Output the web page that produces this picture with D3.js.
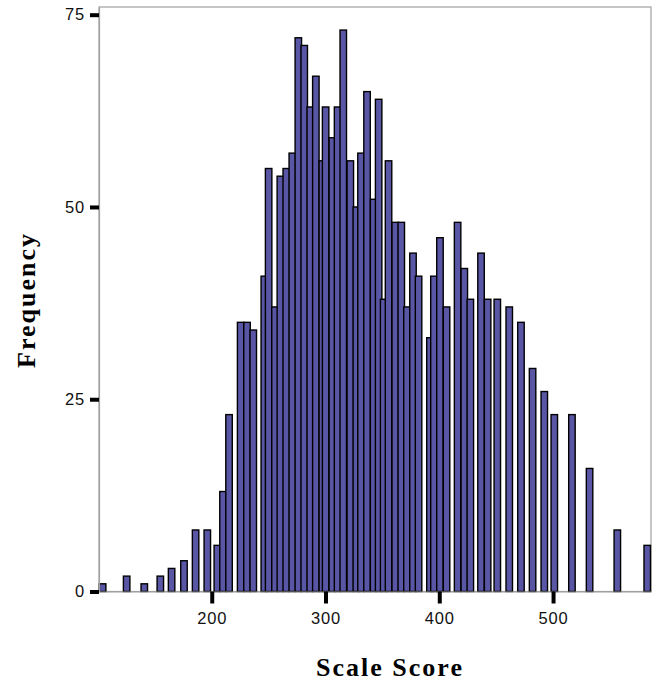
<!DOCTYPE html>
<html>
<head>
<meta charset="utf-8">
<script src="https://cdnjs.cloudflare.com/ajax/libs/d3/7.8.5/d3.min.js"></script>
<style>
	body { margin: 0; background: #fff; }
</style>
</head>
<body>
<script>
	// scale score values (one bar each) and their frequencies
	var scores = [104.1, 125.2, 140.7, 154.8, 164.7, 175.6, 185.8, 196.1, 204.9, 209.9,
	              215.2, 225.4, 231.0, 236.5, 246.2, 250.0, 255.6, 260.3, 265.5, 270.8,
	              276.1, 281.3, 286.6, 291.5, 297.2, 300.1, 306.0, 310.6, 315.6, 321.8,
	              327.1, 331.2, 336.5, 342.3, 346.7, 351.1, 355.4, 361.3, 366.6, 371.6,
	              376.9, 381.8, 391.8, 395.3, 400.6, 406.4, 416.1, 422.0, 427.3, 436.7,
	              442.5, 451.0, 461.5, 471.8, 482.0, 492.3, 501.1, 516.6, 532.1, 556.5,
	              582.8];
	var counts = [1, 2, 1, 2, 3, 4, 8, 8, 6, 13,
	              23, 35, 35, 34, 41, 55, 37, 54, 55, 57,
	              72, 71, 63, 67, 56, 63, 59, 63, 73, 56,
	              50, 57, 65, 51, 64, 38, 56, 48, 48, 37,
	              44, 41, 33, 41, 46, 37, 48, 42, 38, 44,
	              38, 38, 37, 35, 29, 26, 23, 23, 16, 8,
	              6];
	var xTicks = [200, 300, 400, 500];
	var yTicks = [0, 25, 50, 75];

	var width = 661, height = 685;
	var plotL = 99, plotR = 651, plotT = 7, plotB = 591.5;

	var svg = d3.select("body").append("svg")
		.attr("width", width)
		.attr("height", height);

	var x = d3.scaleLinear().domain([100.9, 586.1]).range([plotL, plotR]);
	var y = d3.scaleLinear().domain([0, 76]).range([plotB, plotT]);

	var half = 2.85; // half bar width in score units
	var data = scores.map(function(s, i) { return {s: s, n: counts[i]}; });

	// frame
	svg.append("rect")
		.attr("x", plotL).attr("y", plotT)
		.attr("width", plotR - plotL).attr("height", plotB - plotT)
		.attr("fill", "none")
		.attr("stroke", "#a0a0a0")
		.attr("stroke-width", 1.2);

	svg.selectAll("rect.bar")
		.data(data)
		.enter()
		.append("rect")
		.attr("class", "bar")
		.attr("x", function(d) { return x(d.s - half); })
		.attr("y", function(d) { return y(d.n); })
		.attr("width", function(d) { return x(d.s + half) - x(d.s - half); })
		.attr("height", function(d) { return y(0) - y(d.n); })
		.attr("fill", "#5a56a6")
		.attr("stroke", "#000")
		.attr("stroke-width", 1.4);

	var yAxis = svg.append("g")
		.attr("transform", "translate(" + plotL + ",0)")
		.call(d3.axisLeft(y).tickValues(yTicks).tickSize(9).tickSizeOuter(0).tickPadding(5));
	var xAxis = svg.append("g")
		.attr("transform", "translate(0," + plotB + ")")
		.call(d3.axisBottom(x).tickValues(xTicks).tickSize(12).tickSizeOuter(0).tickPadding(9));

	[yAxis, xAxis].forEach(function(g) {
		g.select(".domain").attr("stroke", "#a0a0a0").attr("stroke-width", 1.2);
		g.selectAll(".tick line").attr("stroke", "#000").attr("stroke-width", 4);
		g.selectAll(".tick text")
			.attr("fill", "#111")
			.style("font-family", "'Liberation Sans', Arial, sans-serif")
			.style("font-size", "16.5px")
			.style("letter-spacing", "0.8px");
	});

	svg.append("text")
		.attr("x", 390).attr("y", 676)
		.attr("text-anchor", "middle")
		.style("font-family", "'Liberation Serif', 'Times New Roman', serif")
		.style("font-weight", "bold")
		.style("font-size", "26px")
		.style("letter-spacing", "2px")
		.text("Scale Score");

	svg.append("text")
		.attr("transform", "translate(35,300) rotate(-90)")
		.attr("text-anchor", "middle")
		.style("font-family", "'Liberation Serif', 'Times New Roman', serif")
		.style("font-weight", "bold")
		.style("font-size", "26px")
		.style("letter-spacing", "2px")
		.text("Frequency");
</script>
</body>
</html>
